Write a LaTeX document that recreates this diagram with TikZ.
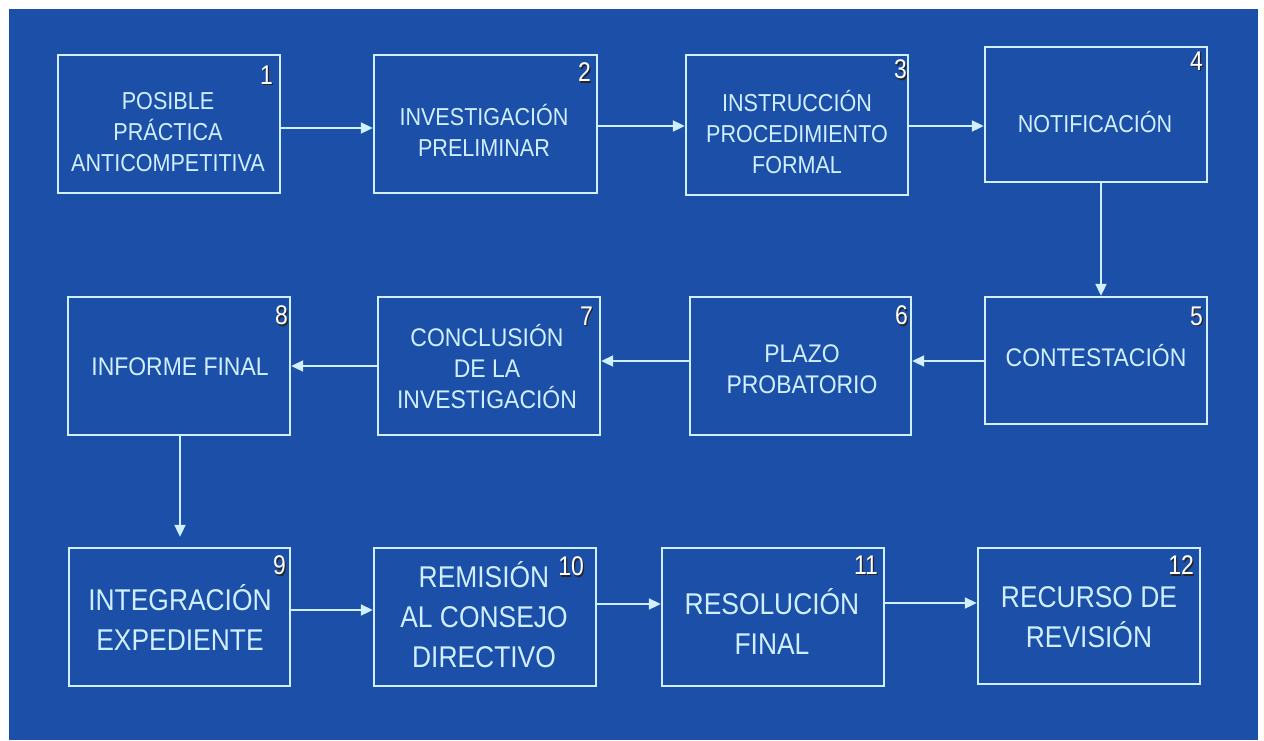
\documentclass[tikz,border=0pt]{standalone}
\usepackage{fontspec}
\usetikzlibrary{arrows.meta,fit}
\newfontfamily\cond[FakeStretch=0.88]{Liberation Sans}
\newfontfamily\condm[FakeStretch=0.9]{Liberation Sans}
\newfontfamily\condn[FakeStretch=0.85]{Liberation Sans}
\definecolor{bgblue}{RGB}{27,79,168}
\definecolor{ln}{RGB}{208,240,255}
\tikzset{
  box/.style={draw=ln, line width=2.4pt, inner sep=0pt},
  arr/.style={draw=ln, line width=2pt, -{Triangle[length=12pt,width=11pt]}},
  ttop/.style={text=ln, align=center, inner sep=0pt, font=\cond\fontsize{24.5}{31}\selectfont},
  tmid/.style={text=ln, align=center, inner sep=0pt, font=\condm\fontsize{25.5}{31}\selectfont},
  tbot/.style={text=ln, align=center, inner sep=0pt, font=\cond\fontsize{30}{40}\selectfont},
  num/.style={text=white, inner sep=0pt, anchor=north east, font=\condn\fontsize{27}{27}\selectfont},
  numsh/.style={text=black!85, inner sep=0pt, anchor=north east, font=\condn\fontsize{27}{27}\selectfont},
}
\begin{document}
\begin{tikzpicture}[x=1pt,y=-1pt]
\fill[white] (0,0) rectangle (1264,740);
\fill[bgblue] (9,9) rectangle (1258,740);
\useasboundingbox (0,0) rectangle (1264,740);
% boxes
\node[box, fit={(58,55) (280,193)}] (b1) {};
\node[box, fit={(374,55) (597,193)}] (b2) {};
\node[box, fit={(686,55) (908,195)}] (b3) {};
\node[box, fit={(985,47) (1207,182)}] (b4) {};
\node[box, fit={(985,297) (1207,424)}] (b5) {};
\node[box, fit={(690,297) (911,435)}] (b6) {};
\node[box, fit={(378,297) (600,435)}] (b7) {};
\node[box, fit={(68,297) (290,435)}] (b8) {};
\node[box, fit={(69,548) (290,686)}] (b9) {};
\node[box, fit={(374,548) (596,686)}] (b10) {};
\node[box, fit={(662,548) (884,686)}] (b11) {};
\node[box, fit={(978,548) (1200,684)}] (b12) {};
% texts
\node[ttop] (t1) at (168,132) {POSIBLE\\PRÁCTICA\\ANTICOMPETITIVA};
\node[ttop] (t2) at (484,130) {INVESTIGACIÓN\\PRELIMINAR};
\node[ttop] (t3) at (797,132) {INSTRUCCIÓN\\PROCEDIMIENTO\\FORMAL};
\node[ttop] (t4) at (1095,122) {NOTIFICACIÓN};
\node[tmid] (t5) at (1096,356) {CONTESTACIÓN};
\node[tmid] (t6) at (802,369) {PLAZO\\PROBATORIO};
\node[tmid] (t7) at (487,367) {CONCLUSIÓN\\DE LA\\INVESTIGACIÓN};
\node[tmid] (t8) at (180,367) {INFORME FINAL};
\node[tbot] (t9) at (180,617) {INTEGRACIÓN\\EXPEDIENTE};
\node[tbot] (t10) at (484,615) {REMISIÓN\\AL CONSEJO\\DIRECTIVO};
\node[tbot] (t11) at (772,621) {RESOLUCIÓN\\FINAL};
\node[tbot] (t12) at (1089,617) {RECURSO DE\\REVISIÓN};
% numbers
\foreach \i/\dx/\dy in {1/8/12,2/7/9,3/2/6,4/5/6,5/5/11,6/4/10,7/8/11,8/3/10,9/5/9,10/13/10,11/7/9,12/7/9}{
  \node[numsh] (ns\i) at ([xshift=-\dx+1.2,yshift=-\dy-1.2]b\i.north east) {\i};
  \node[num] (n\i) at ([xshift=-\dx,yshift=-\dy]b\i.north east) {\i};
}
% connectors
\draw[arr] (b1.east |- 0,128) -- (b2.west |- 0,128);
\draw[arr] (b2.east |- 0,126) -- (b3.west |- 0,126);
\draw[arr] (b3.east |- 0,126) -- (b4.west |- 0,126);
\draw[arr] (b4.south -| 1101,0) -- (b5.north -| 1101,0);
\draw[arr] (b5.west |- 0,361) -- (b6.east |- 0,361);
\draw[arr] (b6.west |- 0,361) -- (b7.east |- 0,361);
\draw[arr] (b7.west |- 0,366) -- (b8.east |- 0,366);
\draw[arr, shorten >=10pt] (b8.south -| 180,0) -- (b9.north -| 180,0);
\draw[arr] (b9.east |- 0,610) -- (b10.west |- 0,610);
\draw[arr] (b10.east |- 0,604) -- (b11.west |- 0,604);
\draw[arr] (b11.east |- 0,603) -- (b12.west |- 0,603);
\end{tikzpicture}
\end{document}
